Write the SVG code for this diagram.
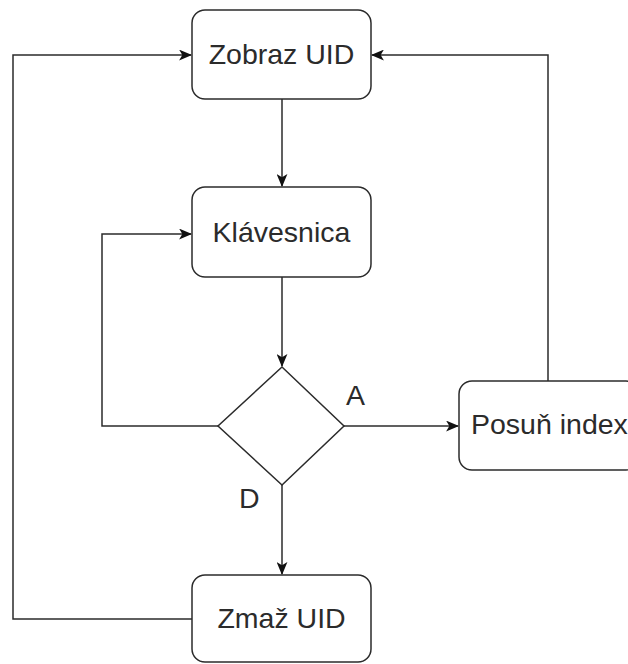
<svg xmlns="http://www.w3.org/2000/svg" width="628" height="664" viewBox="0 0 628 664">
  <style>
    .box { fill: #ffffff; stroke: #2b2b2b; stroke-width: 1.5; }
    .edge { fill: none; stroke: #2b2b2b; stroke-width: 1.5; }
    .label { font-family: "Liberation Sans", Arial, sans-serif; font-size: 28.5px; fill: #2b2b2b; }
    .mid { text-anchor: middle; }
  </style>
  <defs>
    <marker id="arrow" viewBox="0 0 12 10" refX="11" refY="5" markerWidth="13" markerHeight="11" markerUnits="userSpaceOnUse" orient="auto">
      <path d="M0,0 L12,5 L0,10 L3,5 Z" fill="#111111"/>
    </marker>
  </defs>

  <rect width="628" height="664" fill="#ffffff"/>

  <g id="connectors">
    <!-- Zobraz UID -> Klávesnica -->
    <path class="edge" d="M282,99 L282,186" marker-end="url(#arrow)"/>
    <!-- Klávesnica -> decision -->
    <path class="edge" d="M282,277 L282,366" marker-end="url(#arrow)"/>
    <!-- decision (left) loops back to Klávesnica -->
    <path class="edge" d="M218,426 L102,426 L102,234 L191,234" marker-end="url(#arrow)"/>
    <!-- decision A -> Posuň index -->
    <path class="edge" d="M344,426 L458,426" marker-end="url(#arrow)"/>
    <!-- decision D -> Zmaž UID -->
    <path class="edge" d="M282,485 L282,574" marker-end="url(#arrow)"/>
    <!-- Zmaž UID back to Zobraz UID -->
    <path class="edge" d="M192,619 L13,619 L13,55 L191,55" marker-end="url(#arrow)"/>
    <!-- Posuň index back to Zobraz UID -->
    <path class="edge" d="M548,381 L548,55 L372,55" marker-end="url(#arrow)"/>
    <text class="label" x="346" y="405">A</text>
    <text class="label" x="239" y="508">D</text>
  </g>

  <g id="zobraz">
    <rect class="box" x="192" y="10" width="179" height="89" rx="13" ry="13"/>
    <text class="label mid" x="281.5" y="63.5">Zobraz UID</text>
  </g>

  <g id="klavesnica">
    <rect class="box" x="192" y="187" width="179" height="90" rx="13" ry="13"/>
    <text class="label mid" x="281.5" y="242">Klávesnica</text>
  </g>

  <g id="decision">
    <polygon class="box" points="282,367 344,426 282,485 218,426"/>
  </g>

  <g id="posun">
    <rect class="box" x="459" y="381" width="180" height="89" rx="13" ry="13"/>
    <text class="label" x="471" y="434">Posuň index</text>
  </g>

  <g id="zmaz">
    <rect class="box" x="192" y="575" width="179" height="87" rx="13" ry="13"/>
    <text class="label mid" x="281.5" y="628">Zmaž UID</text>
  </g>
</svg>
